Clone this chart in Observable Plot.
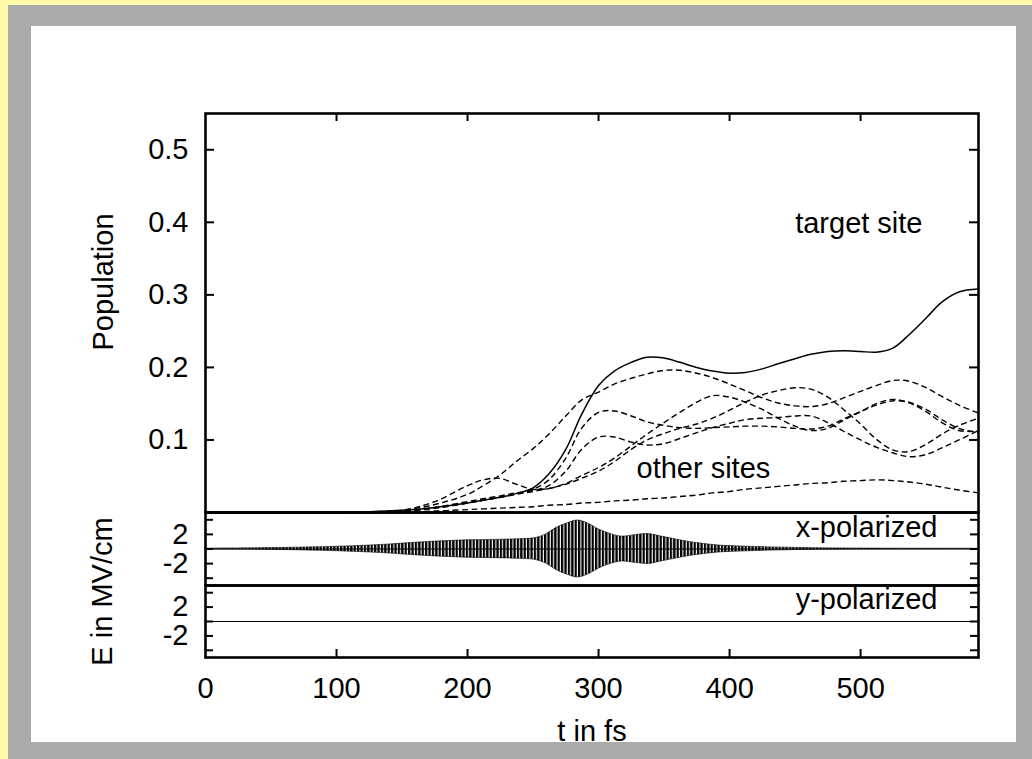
<!DOCTYPE html>
<html>
<head>
<meta charset="utf-8">
<script src="https://cdn.jsdelivr.net/npm/d3@7"></script>
<script src="https://cdn.jsdelivr.net/npm/@observablehq/plot@0.6"></script>
<style>
html, body { margin: 0; padding: 0; background: #fffaa8; }
#page { position: relative; width: 1032px; height: 759px; background: #fffaa8; overflow: hidden; font-family: "Liberation Sans", Arial, Helvetica, sans-serif; }
#grey { position: absolute; left: 8px; top: 5px; right: 0; bottom: 0; background: #aaaaaa; }
#white { position: absolute; left: 31px; top: 26px; width: 985px; height: 716px; background: #ffffff; }
</style>
</head>
<body>
<div id="page"><div id="grey"></div><div id="white"></div></div>
<svg width="0" height="0" style="position:absolute">
  <defs>
    <pattern id="hatch" patternUnits="userSpaceOnUse" width="3.4" height="10">
      <rect x="0" y="0" width="2.3" height="10" fill="#000"></rect>
    </pattern>
  </defs>
</svg>
<script>
// ---------- data ----------
const tGrid = [0, 100, 125, 150, 175, 200, 212, 225, 237, 250, 262, 275, 287, 300, 312, 325, 337, 350, 362, 375, 387, 400, 412, 425, 437, 450, 462, 475, 487, 500, 512, 525, 537, 550, 562, 575, 590];

const targetSite = [0, 0, 0.001, 0.003, 0.007, 0.013, 0.017, 0.021, 0.026, 0.034, 0.053, 0.087, 0.135, 0.175, 0.195, 0.207, 0.214, 0.213, 0.207, 0.200, 0.195, 0.192, 0.193, 0.198, 0.205, 0.212, 0.218, 0.222, 0.223, 0.222, 0.221, 0.227, 0.245, 0.268, 0.290, 0.304, 0.308];

const otherSiteA = [0, 0, 0.001, 0.003, 0.011, 0.025, 0.037, 0.052, 0.070, 0.088, 0.108, 0.133, 0.155, 0.166, 0.177, 0.185, 0.191, 0.196, 0.196, 0.192, 0.186, 0.177, 0.168, 0.158, 0.151, 0.147, 0.146, 0.150, 0.158, 0.167, 0.175, 0.182, 0.181, 0.172, 0.160, 0.148, 0.137];
const otherSiteB = [0, 0, 0.001, 0.002, 0.006, 0.013, 0.017, 0.021, 0.026, 0.032, 0.045, 0.075, 0.116, 0.138, 0.140, 0.133, 0.125, 0.120, 0.117, 0.116, 0.117, 0.118, 0.119, 0.119, 0.118, 0.116, 0.115, 0.119, 0.129, 0.139, 0.148, 0.154, 0.152, 0.142, 0.128, 0.116, 0.110];
const otherSiteC = [0, 0, 0.001, 0.002, 0.007, 0.015, 0.019, 0.023, 0.027, 0.030, 0.037, 0.057, 0.087, 0.104, 0.104, 0.097, 0.093, 0.095, 0.102, 0.110, 0.117, 0.123, 0.128, 0.130, 0.131, 0.133, 0.133, 0.124, 0.112, 0.100, 0.090, 0.082, 0.077, 0.080, 0.089, 0.100, 0.113];
const otherSiteD = [0, 0, 0.001, 0.003, 0.015, 0.037, 0.045, 0.047, 0.039, 0.032, 0.033, 0.040, 0.051, 0.062, 0.075, 0.092, 0.108, 0.124, 0.138, 0.152, 0.161, 0.159, 0.152, 0.142, 0.130, 0.119, 0.113, 0.116, 0.127, 0.139, 0.150, 0.156, 0.151, 0.139, 0.124, 0.113, 0.112];
const otherSiteE = [0, 0, 0.001, 0.002, 0.006, 0.013, 0.017, 0.021, 0.025, 0.029, 0.033, 0.039, 0.047, 0.057, 0.070, 0.087, 0.100, 0.109, 0.116, 0.122, 0.130, 0.141, 0.152, 0.162, 0.168, 0.172, 0.170, 0.159, 0.142, 0.122, 0.101, 0.086, 0.084, 0.094, 0.108, 0.120, 0.130];
const otherSiteF = [0, 0, 0, 0.001, 0.002, 0.004, 0.005, 0.006, 0.007, 0.008, 0.010, 0.011, 0.013, 0.014, 0.016, 0.017, 0.019, 0.020, 0.022, 0.024, 0.027, 0.029, 0.032, 0.034, 0.036, 0.038, 0.040, 0.041, 0.043, 0.044, 0.045, 0.044, 0.042, 0.039, 0.035, 0.031, 0.027];

// x-polarized field: envelope (MV/cm) of the fast oscillation
const xPolT   = [0, 50, 100, 134, 160, 180, 200, 220, 240, 252, 260, 268, 276, 284, 292, 300, 310, 318, 328, 338, 348, 358, 368, 378, 390, 400, 420, 450, 500, 590];
const xPolAmp = [0.05, 0.12, 0.3, 0.55, 0.85, 1.05, 1.2, 1.25, 1.35, 1.5, 2.0, 2.9, 3.5, 3.9, 3.5, 2.7, 2.0, 1.7, 1.9, 2.05, 1.7, 1.35, 1.0, 0.75, 0.5, 0.4, 0.28, 0.15, 0.06, 0.03];

// y-polarized field: zero throughout
const yPolT = [0, 590];
const yPolE = [0, 0];

// ticks
const timeTicks = [100, 200, 300, 400, 500];
const timeLabels = [0, 100, 200, 300, 400, 500];
const popTicks = [0.1, 0.2, 0.3, 0.4, 0.5];
const fieldTicks = [-4, -2, 0, 2, 4];
const fieldLabels = [-2, 2];

// ---------- build tables ----------
const target = tGrid.map((t, i) => ({t, p: targetSite[i]}));
const otherSeries = {A: otherSiteA, B: otherSiteB, C: otherSiteC, D: otherSiteD, E: otherSiteE, F: otherSiteF};
const others = Object.entries(otherSeries).flatMap(([site, vals]) => tGrid.map((t, i) => ({t, p: vals[i], site})));
const xRows = xPolT.map((t, i) => ({t, a: xPolAmp[i]}));
const yRows = yPolT.map((t, i) => ({t, e: yPolE[i]}));

// ---------- layout ----------
const FONT = '"Liberation Sans", Arial, Helvetica, sans-serif';
const FS = 29;
const W = 1032, ML = 205, MR = 54;
const AW = W - ML - MR;          // plot area width
const XDOM = [0, 590];
const FRAME_W = 2.6, TICK_W = 2;

function place(svg, top) {
  svg.style.position = "absolute";
  svg.style.left = "0px";
  svg.style.top = top + "px";
  svg.style.background = "transparent";
  svg.style.overflow = "visible";
  svg.style.fontFamily = FONT;
  svg.style.maxWidth = "none";
  document.getElementById("page").appendChild(svg);
}

// Panel 1: population
const H1 = 399;
const p1 = Plot.plot({
  width: W, height: 113 + H1 + 2,
  marginLeft: ML, marginRight: MR, marginTop: 113, marginBottom: 2,
  x: {domain: XDOM, axis: null},
  y: {domain: [0, 0.55]},
  marks: [
    Plot.line(others, {x: "t", y: "p", z: "site", stroke: "#000", strokeWidth: 1.4, strokeDasharray: "6,3.5", strokeLinecap: "butt", curve: "catmull-rom"}),
    Plot.line(target, {x: "t", y: "p", stroke: "#000", strokeWidth: 1.5, curve: "catmull-rom"}),
    Plot.tickX(timeTicks, {x: d => d, insetBottom: H1 - 8, strokeWidth: TICK_W}),
    Plot.tickY(popTicks, {y: d => d, insetRight: AW - 9, strokeWidth: TICK_W}),
    Plot.tickY(popTicks, {y: d => d, insetLeft: AW - 9, strokeWidth: TICK_W}),
    Plot.axisY({ticks: popTicks, tickSize: 0, tickPadding: 17, tickFormat: d3.format(".1f"), fontSize: FS, label: null}),
    Plot.text(["Population"], {frameAnchor: "left", dx: -102, dy: -31, rotate: -90, textAnchor: "middle", lineAnchor: "middle", fontSize: FS}),
    Plot.text(["target site"], {frameAnchor: "top-right", dx: -56, dy: 110, textAnchor: "end", lineAnchor: "middle", fontSize: FS}),
    Plot.text(["other sites"], {frameAnchor: "top-left", dx: 431, dy: 355, textAnchor: "start", lineAnchor: "middle", fontSize: FS}),
    Plot.frame({strokeWidth: FRAME_W})
  ]
});
place(p1, 0);

// Panel 2: x-polarized field
const H2 = 73;
const p2 = Plot.plot({
  width: W, height: 12 + H2 + 2,
  marginLeft: ML, marginRight: MR, marginTop: 12, marginBottom: 2,
  x: {domain: XDOM, axis: null},
  y: {domain: [-5, 5]},
  marks: [
    Plot.areaY(xRows, {x: "t", y1: d => -d.a, y2: d => d.a, fill: "url(#hatch)", stroke: "#000", strokeWidth: 0.6, curve: "catmull-rom"}),
    Plot.ruleY([0], {strokeWidth: 1}),
    Plot.tickY(fieldTicks, {y: d => d, insetRight: AW - 8, strokeWidth: TICK_W}),
    Plot.tickY(fieldTicks, {y: d => d, insetLeft: AW - 8, strokeWidth: TICK_W}),
    Plot.axisY({ticks: fieldLabels, tickSize: 0, tickPadding: 17, tickFormat: d => String(d), fontSize: FS, label: null}),
    Plot.text(["x-polarized"], {frameAnchor: "top-right", dx: -41, dy: 15, textAnchor: "end", lineAnchor: "middle", fontSize: FS}),
    Plot.frame({strokeWidth: FRAME_W})
  ]
});
place(p2, 500);

// Panel 3: y-polarized field + time axis
const H3 = 72;
const p3 = Plot.plot({
  width: W, height: 12 + H3 + 100,
  marginLeft: ML, marginRight: MR, marginTop: 12, marginBottom: 100,
  x: {domain: XDOM},
  y: {domain: [-5, 5]},
  marks: [
    Plot.line(yRows, {x: "t", y: "e", stroke: "#000", strokeWidth: 1.2}),
    Plot.tickY(fieldTicks, {y: d => d, insetRight: AW - 8, strokeWidth: TICK_W}),
    Plot.tickY(fieldTicks, {y: d => d, insetLeft: AW - 8, strokeWidth: TICK_W}),
    Plot.tickX(timeTicks, {x: d => d, insetTop: H3 - 8, strokeWidth: TICK_W}),
    Plot.axisY({ticks: fieldLabels, tickSize: 0, tickPadding: 17, tickFormat: d => String(d), fontSize: FS, label: null}),
    Plot.axisX({ticks: timeLabels, tickSize: 0, tickPadding: 20, tickFormat: d => String(d), fontSize: FS, label: null}),
    Plot.text(["y-polarized"], {frameAnchor: "top-right", dx: -41, dy: 14, textAnchor: "end", lineAnchor: "middle", fontSize: FS}),
    Plot.text(["E in MV/cm"], {frameAnchor: "left", dx: -103, dy: -30, rotate: -90, textAnchor: "middle", lineAnchor: "middle", fontSize: FS}),
    Plot.text(["t in fs"], {frameAnchor: "bottom", dy: 74, textAnchor: "middle", lineAnchor: "middle", fontSize: FS}),
    Plot.frame({strokeWidth: FRAME_W})
  ]
});
place(p3, 573);
</script>
</body>
</html>
